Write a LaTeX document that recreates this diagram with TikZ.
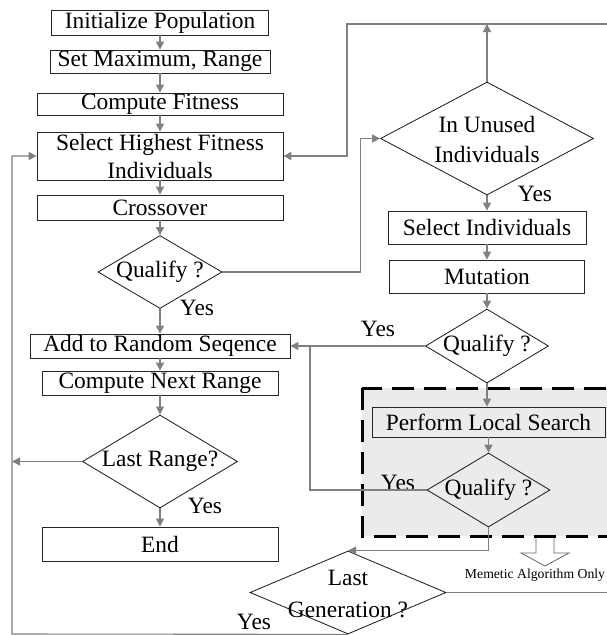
\documentclass[tikz,border=0pt]{standalone}
\usepackage{fontspec}
\setmainfont{Liberation Serif}
\usetikzlibrary{shapes.geometric,arrows.meta}
\begin{document}
\begin{tikzpicture}[x=1pt,y=-1pt,
  every node/.style={font=\fontsize{23.4}{28}\selectfont},
  box/.style={draw=black!85, line width=0.8pt, inner sep=0pt, fill=white, align=center},
  dia/.style={draw=black!90, line width=0.8pt, diamond, inner sep=0pt, fill=white},
  conn/.style={draw=black!50, line width=1.1pt, -{Triangle[length=8pt,width=8pt]}},
  plain/.style={draw=black!50, line width=1.1pt},
  lab/.style={inner sep=0pt},
  small/.style={inner sep=0pt, font=\fontsize{13.7}{15}\selectfont},
]
\useasboundingbox (0,0) rectangle (606,635);
% shaded memetic region
\fill[black!8] (362,388) rectangle (620,536);
% block arrow
\draw[draw=black!60, line width=0.8pt, fill=white] (536,536) -- (536,553) -- (521,553) -- (545,566) -- (569,553) -- (554,553) -- (554,536);
\draw[line width=3pt, dash pattern=on 22pt off 10pt] (362,388) rectangle (640,536);
\node[small] (memo) at (535,575) {Memetic Algorithm Only};

% left column
\node[box, minimum width=217, minimum height=25] (init) at (160,22.5) {Initialize Population};
\node[box, minimum width=220, minimum height=23] (setmax) at (160,61.5) {Set Maximum, Range};
\node[box, minimum width=246, minimum height=22] (compfit) at (160,104) {Compute Fitness};
\node[box, minimum width=246, minimum height=48] (select) at (160,156) {Select Highest Fitness\\Individuals};
\node[box, minimum width=246, minimum height=25] (cross) at (160,207.5) {Crossover};
\node[dia, minimum width=124, minimum height=73] (q1) at (160,272) {};
\node[lab] (q1t) at (q1) {Qualify ?};
\node[box, minimum width=260, minimum height=24] (addrand) at (160,346) {Add to Random Seqence};
\node[box, minimum width=236, minimum height=24] (nextr) at (160,383) {Compute Next Range};
\node[dia, minimum width=155, minimum height=93] (lastr) at (160,461.5) {};
\node[lab] (lastrt) at (lastr) {Last Range?};
\node[box, minimum width=236, minimum height=34] (end) at (160,544) {End};

% right column
\node[dia, minimum width=213, minimum height=113] (unused) at (487,138.5) {};
\node[lab, align=center, font=\fontsize{23.4}{30}\selectfont] (unusedt) at (487,139) {In Unused\\Individuals};
\node[box, minimum width=198, minimum height=33] (selind) at (487,227.5) {Select Individuals};
\node[box, minimum width=195, minimum height=33] (mut) at (487,276.5) {Mutation};
\node[dia, minimum width=123, minimum height=74] (q2) at (487,346) {};
\node[lab] (q2t) at (q2) {Qualify ?};
\node[box, minimum width=233, minimum height=30, fill=black!8] (pls) at (488.5,422) {Perform Local Search};
\node[dia, minimum width=123, minimum height=74, fill=black!8] (q3) at (488.5,490) {};
\node[lab] (q3t) at (q3) {Qualify ?};
\node[dia, minimum width=196, minimum height=83, fill=none] (lastg) at (348,592.5) {};
\node[lab] (lastgt1) at (348,578) {Last};
\node[lab] (lastgt2) at (348,610) {Generation ?};

% yes labels
\node[lab] (y1) at (197,308) {Yes};
\node[lab] (y2) at (535,194) {Yes};
\node[lab] (y3) at (378,329) {Yes};
\node[lab] (y4) at (205,506) {Yes};
\node[lab] (y5) at (398,483) {Yes};
\node[lab] (y6) at (254,622) {Yes};

% coordinates
\coordinate (topR) at (612,24);
\coordinate (topL) at (347,24);
\coordinate (j1) at (310,346);
\coordinate (lb) at (12,634);

% main flow
\draw[conn] (init.south) -- (init.south |- setmax.north);
\draw[conn] (setmax.south) -- (setmax.south |- compfit.north);
\draw[conn] (compfit.south) -- (compfit.south |- select.north);
\draw[conn] (select.south) -- (select.south |- cross.north);
\draw[conn] (cross.south) -- (q1.north);
\draw[conn] (q1.south) -- (addrand.north);
\draw[conn] (addrand.south) -- (nextr.north);
\draw[conn] (nextr.south) -- (lastr.north);
\draw[conn] (lastr.south) -- (end.north);

\draw[conn] (unused.south) -- (unused.south |- selind.north);
\draw[conn] (selind.south) -- (selind.south |- mut.north);
\draw[conn] (mut.south) -- (mut.south |- q2.north);
\draw[conn] (q2.south) -- (q2.south |- pls.north);
\draw[conn] (pls.south) -- (pls.south |- q3.north);

% branches
\draw[conn] (q1.east) -| ([xshift=-20pt]unused.west) -- (unused.west);
\draw[conn] (unused.north) -- (unused.north |- topL);
\draw[conn] (lastg.east) -| (topR) -- (topL) |- (select.east);
\draw[conn] (q2.west) -- (q2.west -| addrand.east);
\draw[plain] (q3.west) -| (j1);
\draw[conn] (q3.south) |- (lastg.north);
\draw[conn] (lastr.west) -- (lastr.west -| lb);
\draw[conn] (lastg.south) -- (lb) |- (select.west);
\end{tikzpicture}
\end{document}
